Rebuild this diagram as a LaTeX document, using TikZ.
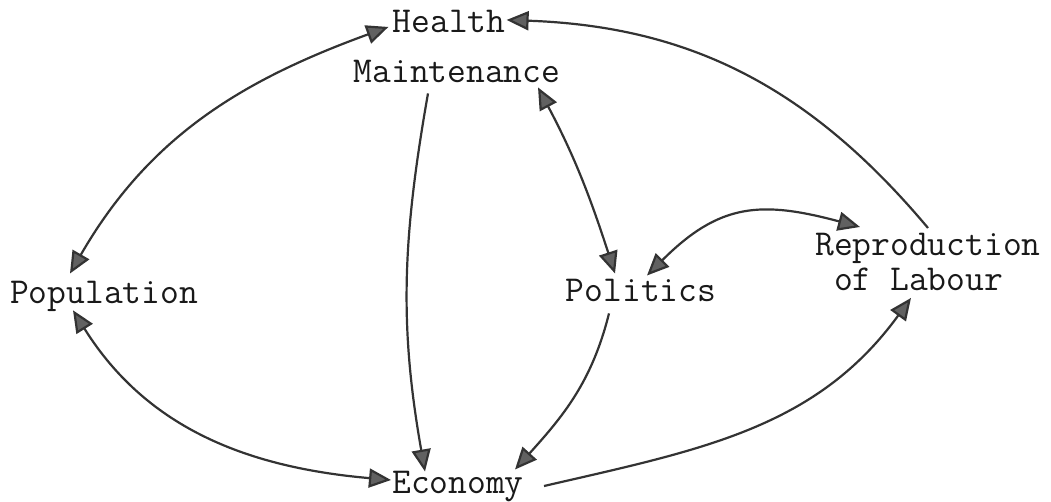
\documentclass[tikz,border=0pt]{standalone}
\usepackage{fontspec}
\usetikzlibrary{arrows.meta}

\begin{document}
\begin{tikzpicture}[
  x=1pt,y=1pt,
  label text/.style={text=black!90,inner sep=0pt,font=\ttfamily\fontsize{36.5}{35}\selectfont},
  headtip/.tip={Triangle[length=22pt,width=19pt,fill=black!62]},
  link/.style={draw=black!80,line width=2.2pt,-{headtip}},
  two-way/.style={link,{headtip}-{headtip}}
]
  \useasboundingbox (0,0) rectangle (1051,501);

  \node[label text,anchor=base] (health) at (449,468) {Health};
  \node[label text,anchor=base] (maint) at (457,418) {Maintenance};
  \node[label text,anchor=base] (population) at (104,198) {Population};
  \node[label text,anchor=base] (politics) at (641,200) {Politics};
  \node[label text,anchor=base] (economy) at (458,8) {Economy};
  \node[label text,anchor=north west,align=left] (repro) at (815,268)
    {Reproduction\\\phantom{o}of Labour};

  \draw[two-way] ([shift={(-34pt,7pt)}]population.north)
    to[out=60,in=200] ([shift={(-4pt,-5pt)}]health.west);
  \draw[two-way] ([shift={(-31pt,1pt)}]population.south)
    to[out=-58,in=175] ([shift={(-1pt,6pt)}]economy.west);
  \draw[link] ([shift={(-29pt,-10pt)}]maint.south)
    to[out=-100,in=100] ([shift={(-33pt,-1pt)}]economy.north);
  \draw[two-way] ([shift={(81pt,-4pt)}]maint.south)
    to[out=-62,in=108] ([shift={(-26pt,5pt)}]politics.north);
  \draw[two-way] ([shift={(6pt,3pt)}]politics.north)
    to[out=45,in=165,looseness=1.2] ([shift={(45pt,6pt)}]repro.north west);
  \draw[link] ([shift={(-32pt,-12pt)}]politics.south)
    to[out=-104,in=48] ([shift={(57pt,1pt)}]economy.north);
  \draw[link] ([shift={(20pt,0pt)}]economy.east)
    to[out=13,in=-126] ([shift={(-17pt,-7pt)}]repro.south);
  \draw[link] ([shift={(113pt,5pt)}]repro.north west)
    to[out=130,in=-2] ([shift={(1pt,2pt)}]health.east);
\end{tikzpicture}
\end{document}
